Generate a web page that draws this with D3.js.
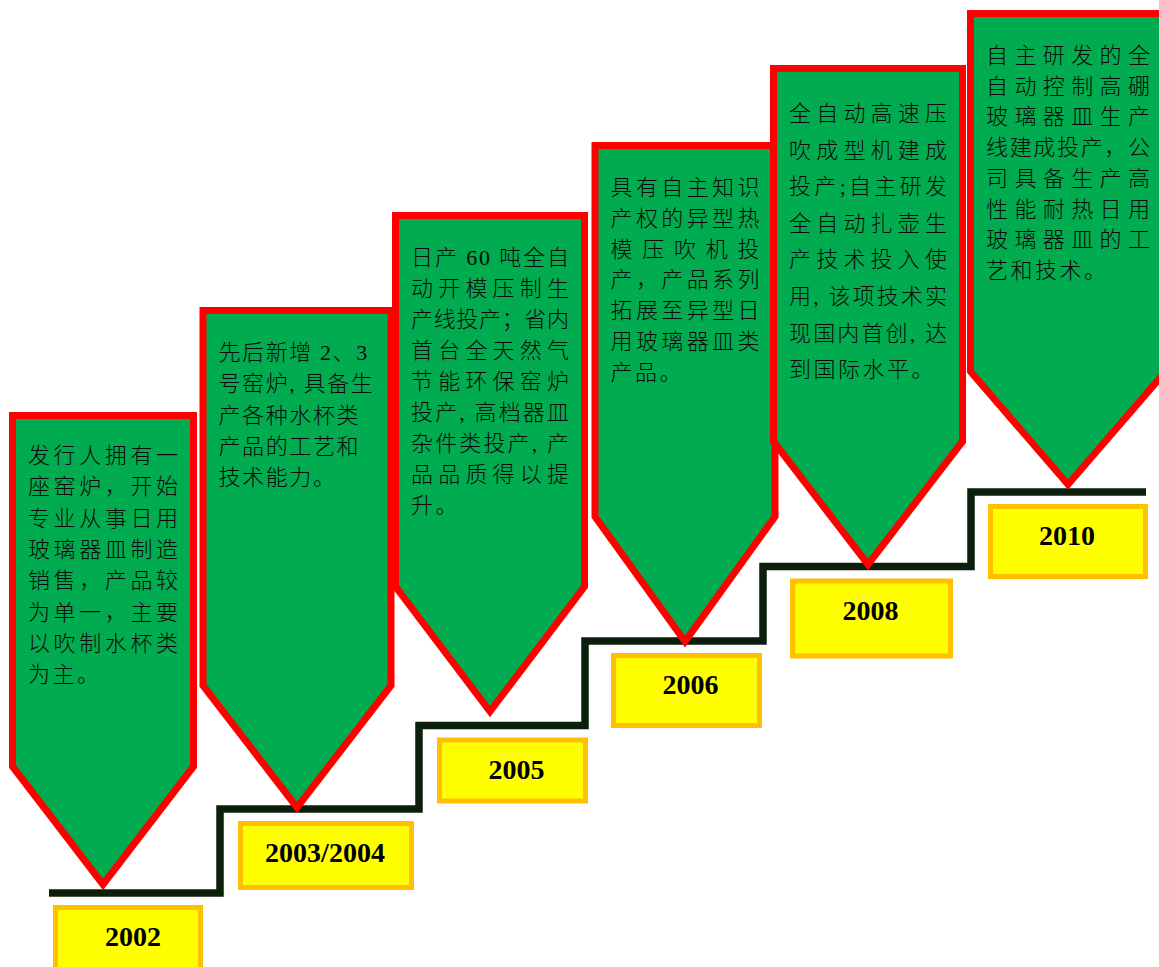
<!DOCTYPE html>
<html>
<head>
<meta charset="utf-8">
<script src="https://cdn.jsdelivr.net/npm/d3@7"></script>
<style>
  html, body { margin: 0; padding: 0; background: #ffffff; overflow: hidden; }
  svg { display: block; }
</style>
</head>
<body>
<svg id="chart" width="1159" height="967"></svg>
<script>
// ---------------- DATA ----------------
const years = ["2002", "2003/2004", "2005", "2006", "2008", "2010"];

const milestoneLines = [
  ["发行人拥有一", "座窑炉，开始", "专业从事日用", "玻璃器皿制造", "销售，产品较", "为单一，主要", "以吹制水杯类", "为主。"],
  ["先后新增 2、3", "号窑炉, 具备生", "产各种水杯类", "产品的工艺和", "技术能力。"],
  ["日产 60 吨全自", "动开模压制生", "产线投产；省内", "首台全天然气", "节能环保窑炉", "投产, 高档器皿", "杂件类投产, 产", "品品质得以提", "升。"],
  ["具有自主知识", "产权的异型热", "模压吹机投", "产，产品系列", "拓展至异型日", "用玻璃器皿类", "产品。"],
  ["全自动高速压", "吹成型机建成", "投产;自主研发", "全自动扎壶生", "产技术投入使", "用, 该项技术实", "现国内首创, 达", "到国际水平。"],
  ["自主研发的全", "自动控制高硼", "玻璃器皿生产", "线建成投产，公", "司具备生产高", "性能耐热日用", "玻璃器皿的工", "艺和技术。"]
];

const stage = d3.range(years.length);

// ---------------- LAYOUT (positions / sizes, kept apart from data) ----------------
const W = 1159, H = 967;
const tipX   = d3.scaleLinear().domain(stage).range([103, 297, 490, 685, 868, 1068]);
const tipY   = d3.scaleLinear().domain(stage).range([884.5, 807.5, 711.5, 641.5, 564.5, 484.5]);
const stepY  = d3.scaleLinear().domain(stage).range([893, 809, 725.5, 641, 566.5, 492]);
const riserX = d3.scaleLinear().domain([-0.5, 0.5, 1.5, 2.5, 3.5, 4.5, 5.5])
                 .range([49, 220, 419, 585, 763, 971, 1146]);

const arrowW     = [181, 188, 189, 180, 189, 195];
const arrowH     = [469, 497, 496, 496, 496, 471];
const arrowPoint = [118, 122, 125, 125, 123, 113];
const firstLine  = [47.5, 49.5, 49.5, 49.5, 52.5, 49.5];
const lineGap    = [31.3, 31.3, 31.0, 30.8, 36.6, 30.7];
const justify    = [true, false, true, true, true, true];

const boxCx = [128, 326, 512.5, 686.5, 871.5, 1068];
const boxW  = [150, 176, 151, 151, 163, 160];
const boxH  = [75, 69, 66, 75, 80, 75];
const boxGap = 12;

// ---------------- STYLE ----------------
const GREEN = "#00AC4F", RED = "#FF0000", STEP = "#0C1F0C",
      YELLOW = "#FFFF00", ORANGE = "#FFC000";
const cjkFont = "'Liberation Serif', 'Noto Sans CJK SC', serif";

// ---------------- DRAW ----------------
const svg = d3.select("#chart");

// Staircase line
const stepPts = [];
stage.forEach(i => {
  stepPts.push([riserX(i - 0.5), stepY(i)]);
  stepPts.push([riserX(i + 0.5), stepY(i)]);
});
svg.append("path")
  .attr("d", d3.line()(stepPts))
  .attr("fill", "none")
  .attr("stroke", STEP)
  .attr("stroke-width", 7.5)
  .attr("stroke-linejoin", "miter")
  .attr("stroke-linecap", "butt");

// Arrow (pentagon) shapes
const arrows = svg.selectAll("g.arrow").data(stage).join("g").attr("class", "arrow");

arrows.append("path")
  .attr("d", i => {
    const cx = tipX(i), ty = tipY(i), hw = arrowW[i] / 2;
    const top = ty - arrowH[i], sh = ty - arrowPoint[i];
    return d3.line()([[cx - hw, top], [cx + hw, top], [cx + hw, sh], [cx, ty], [cx - hw, sh]]) + "Z";
  })
  .attr("fill", GREEN)
  .attr("stroke", RED)
  .attr("stroke-width", 7)
  .attr("stroke-linejoin", "miter")
  .attr("stroke-miterlimit", 10);

// Text inside arrows
arrows.each(function (i) {
  const g = d3.select(this);
  const left = tipX(i) - arrowW[i] / 2 + 15.5;
  const width = arrowW[i] - 31;
  const top = tipY(i) - arrowH[i];
  const lines = milestoneLines[i];
  g.selectAll("text.line").data(lines).join("text")
    .attr("class", "line")
    .attr("x", left)
    .attr("y", (d, k) => top + firstLine[i] + k * lineGap[i])
    .attr("font-family", cjkFont)
    .attr("font-size", 22)
    .attr("font-weight", 300)
    .attr("fill", "#0a0a0a")
    .attr("letter-spacing", justify[i] ? null : 1.6)
    .each(function (d, k) {
      if (justify[i] && k < lines.length - 1) {
        d3.select(this).attr("textLength", width).attr("lengthAdjust", "spacing");
      } else if (k === lines.length - 1) {
        d3.select(this).attr("letter-spacing", justify[i] ? 2.5 : 1.6);
      }
    })
    .text(d => d);
});

// Year boxes
const boxes = svg.selectAll("g.year").data(stage).join("g").attr("class", "year");
boxes.append("rect")
  .attr("x", i => boxCx[i] - boxW[i] / 2 + 2.5)
  .attr("y", i => stepY(i) + boxGap + 2.5)
  .attr("width", i => boxW[i] - 5)
  .attr("height", i => boxH[i] - 5)
  .attr("fill", YELLOW)
  .attr("stroke", ORANGE)
  .attr("stroke-width", 5);

boxes.append("text")
  .attr("x", i => boxCx[i] + (i === 0 ? 5 : i === 2 || i === 3 ? 4 : -1))
  .attr("y", i => stepY(i) + boxGap + 31 + 10)
  .attr("text-anchor", "middle")
  .attr("font-family", "'Liberation Serif', 'Times New Roman', serif")
  .attr("font-weight", "bold")
  .attr("font-size", 28)
  .attr("fill", "#000")
  .text(i => years[i]);
</script>
</body>
</html>
